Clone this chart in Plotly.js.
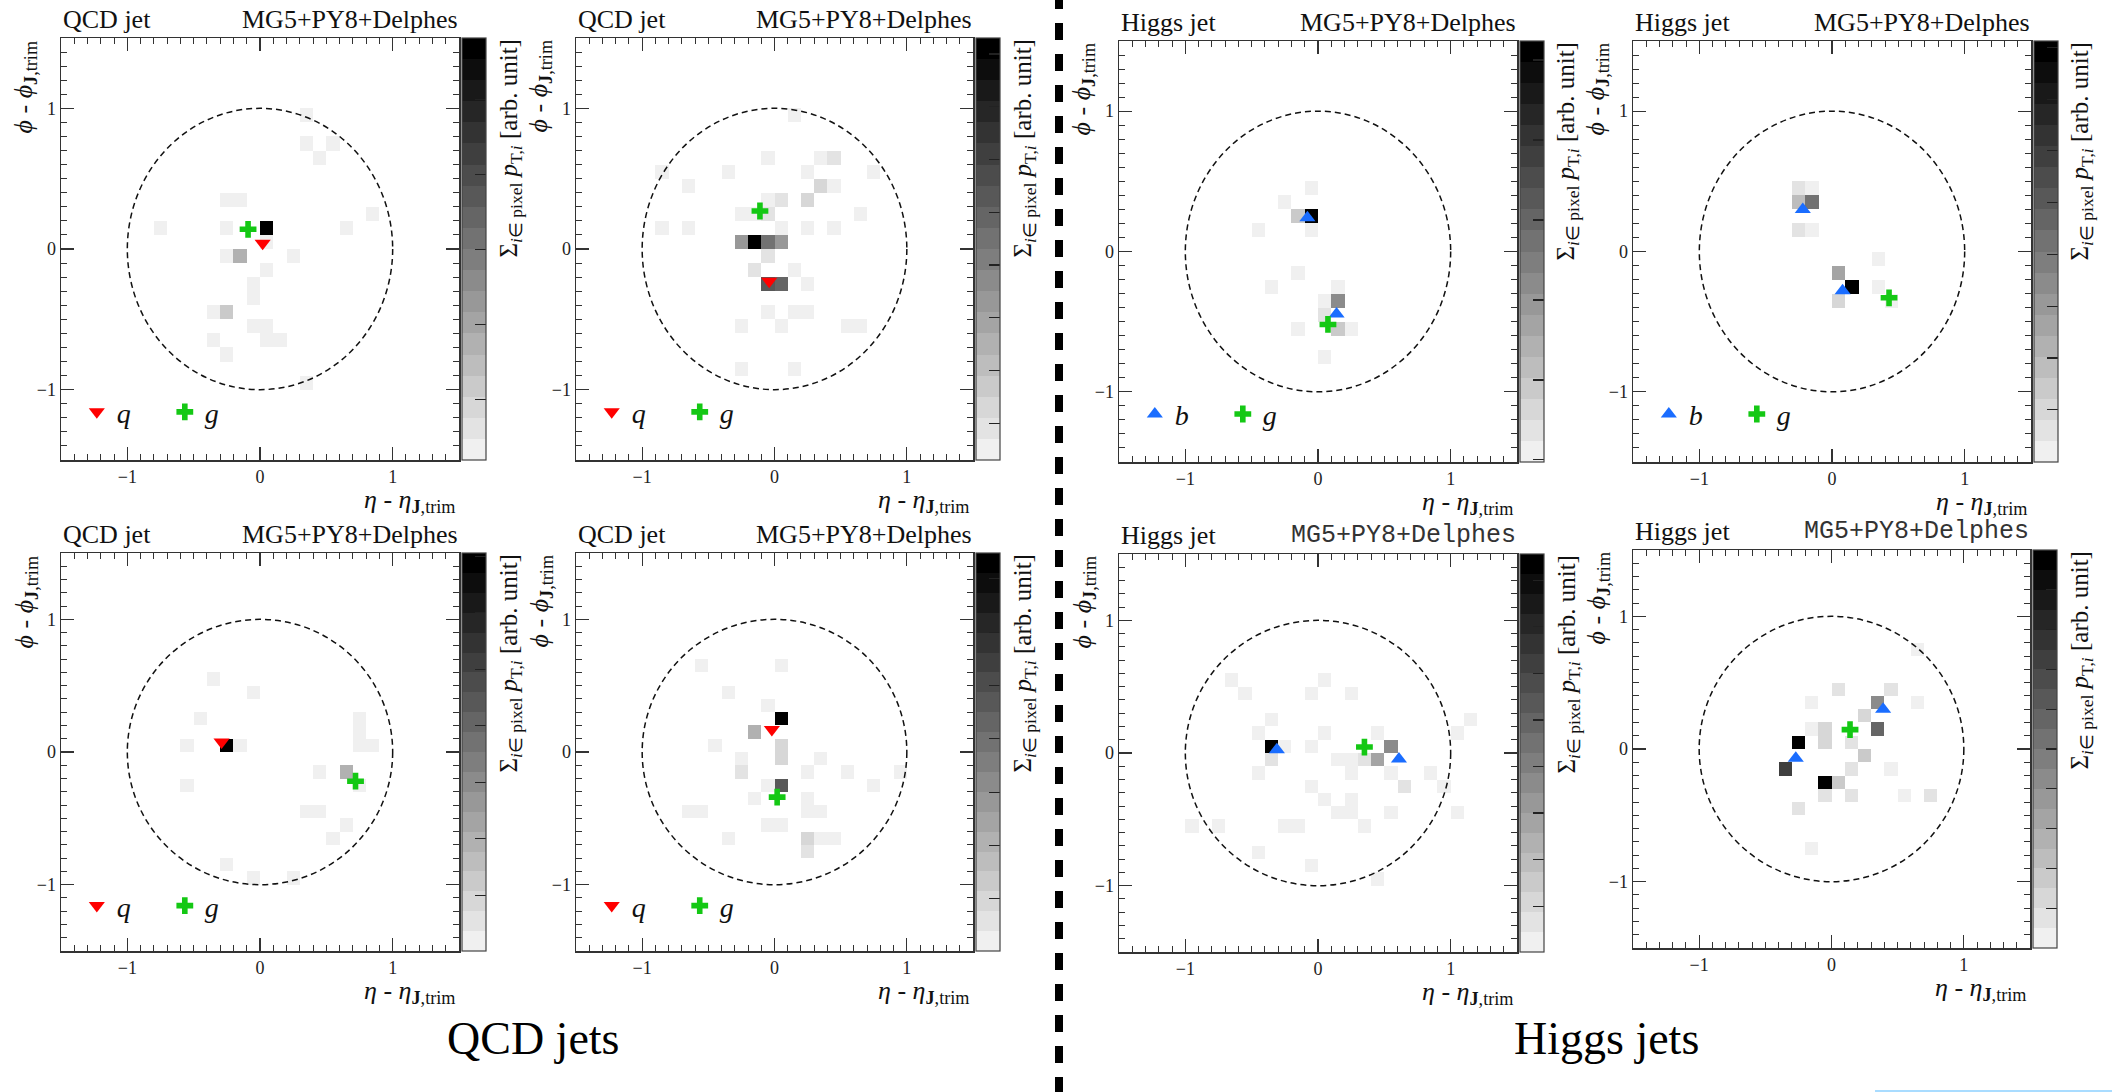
<!DOCTYPE html>
<html><head><meta charset="utf-8">
<script src="https://cdn.plot.ly/plotly-3.0.1.min.js"></script>
<style>html,body{margin:0;padding:0;background:#fff}#chart{width:2112px;height:1092px}</style>
</head><body><div id="chart"></div><script>
// ---------------- DATA ----------------
// pixel cells: centre in eta, centre in phi, grey level (1 = lightest, 20 = black)
const P1_CELL_ETA = [0.35,0.35,0.55,0.45,-0.25,-0.15,0.85,-0.75,-0.25,0.05,0.65,0.05,-0.25,-0.15,0.25,0.05,-0.05,-0.05,-0.35,-0.25,-0.05,0.05,-0.35,0.05,0.15,-0.25,0.35];
const P1_CELL_PHI = [0.95,0.75,0.75,0.65,0.35,0.35,0.25,0.15,0.15,0.15,0.15,0.05,-0.05,-0.05,-0.05,-0.15,-0.25,-0.35,-0.45,-0.45,-0.55,-0.55,-0.65,-0.65,-0.65,-0.75,-0.95];
const P1_CELL_LEVEL = [1,1,1,1,1,1,1,1,1,20,1,1,1,6,1,1,1,1,1,4,1,1,1,1,1,1,1];

const P2_CELL_ETA = [0.15,-0.05,0.35,0.45,-0.85,-0.35,0.25,0.75,-0.65,0.35,0.45,-0.05,0.05,0.25,-0.25,-0.15,-0.05,0.65,-0.85,-0.65,0.05,0.25,0.45,-0.25,-0.15,-0.05,0.05,-0.05,-0.15,0.15,-0.05,0.05,0.25,-0.05,0.15,0.25,-0.25,0.05,0.55,0.65,-0.25,0.15];
const P2_CELL_PHI = [0.95,0.65,0.65,0.65,0.55,0.55,0.55,0.55,0.45,0.45,0.45,0.35,0.35,0.35,0.25,0.25,0.25,0.25,0.15,0.15,0.15,0.15,0.15,0.05,0.05,0.05,0.05,-0.05,-0.15,-0.15,-0.25,-0.25,-0.25,-0.45,-0.45,-0.45,-0.55,-0.55,-0.55,-0.55,-0.85,-0.85];
const P2_CELL_LEVEL = [1,1,1,2,1,1,1,1,1,3,1,1,2,3,1,1,2,1,1,1,1,1,1,8,20,11,8,2,2,1,13,12,1,1,1,1,1,1,1,1,1,1];

const P3_CELL_ETA = [-0.05,-0.25,-0.15,-0.05,-0.45,-0.05,-0.15,-0.35,0.15,0.05,0.15,0.05,-0.15,0.15,0.25,0.05];
const P3_CELL_PHI = [0.45,0.35,0.25,0.25,0.15,0.15,-0.15,-0.25,-0.25,-0.35,-0.35,-0.45,-0.55,-0.55,-0.55,-0.75];
const P3_CELL_LEVEL = [1,1,4,20,1,1,1,1,1,1,9,2,1,4,1,1];

const P4_CELL_ETA = [-0.25,-0.15,-0.25,-0.15,-0.25,-0.15,0.35,0.05,0.15,0.35,0.05,0.45];
const P4_CELL_PHI = [0.45,0.45,0.35,0.35,0.15,0.15,-0.05,-0.15,-0.25,-0.25,-0.35,-0.35];
const P4_CELL_LEVEL = [2,1,5,11,2,1,1,7,20,1,3,1];

const P5_CELL_ETA = [-0.35,-0.05,-0.45,0.75,-0.25,0.75,-0.55,-0.15,0.75,0.85,0.45,0.65,0.75,-0.55,0.35,0.45,0.65,0.55,-0.25,-0.05,0.25];
const P5_CELL_PHI = [0.55,0.45,0.25,0.25,0.05,0.15,0.05,0.05,0.05,0.05,-0.15,-0.15,-0.25,-0.25,-0.45,-0.45,-0.55,-0.65,-0.85,-0.95,-0.95];
const P5_CELL_LEVEL = [1,1,1,1,20,1,1,1,1,1,1,6,1,1,1,1,1,1,1,1,1];

const P6_CELL_ETA = [-0.55,0.05,-0.35,-0.05,0.05,-0.15,-0.45,0.05,0.05,-0.25,0.35,-0.25,0.25,0.55,0.95,-0.05,0.05,0.75,-0.15,0.25,-0.65,-0.55,0.25,0.35,-0.05,0.05,-0.35,0.25,0.35,0.45,0.25];
const P6_CELL_PHI = [0.65,0.65,0.45,0.35,0.25,0.15,0.05,0.05,-0.05,-0.05,-0.05,-0.15,-0.15,-0.15,-0.15,-0.25,-0.25,-0.25,-0.35,-0.35,-0.45,-0.45,-0.45,-0.45,-0.55,-0.55,-0.65,-0.65,-0.65,-0.65,-0.75];
const P6_CELL_LEVEL = [1,1,1,1,20,6,1,3,3,1,1,2,1,1,1,1,13,1,1,1,1,1,1,1,1,1,1,3,1,1,2];

const P7_CELL_ETA = [-0.65,0.05,-0.55,-0.05,0.25,-0.35,1.15,-0.45,0.05,0.45,1.05,-0.35,-0.25,-0.05,0.55,-0.35,0.15,0.25,0.35,0.45,-0.45,0.25,0.55,0.85,-0.05,0.65,0.95,0.05,0.25,0.15,0.25,0.55,1.05,-0.95,-0.75,-0.25,-0.15,0.35,-0.45,-0.05,0.45];
const P7_CELL_PHI = [0.55,0.55,0.45,0.45,0.45,0.25,0.25,0.15,0.15,0.15,0.15,0.05,0.05,0.05,0.05,-0.05,-0.05,-0.05,-0.05,-0.05,-0.15,-0.15,-0.15,-0.15,-0.25,-0.25,-0.25,-0.35,-0.35,-0.45,-0.45,-0.45,-0.45,-0.55,-0.55,-0.55,-0.55,-0.55,-0.75,-0.85,-0.95];
const P7_CELL_LEVEL = [1,1,1,1,1,1,1,1,1,1,1,20,1,1,9,2,1,1,2,7,1,1,1,1,1,2,1,1,1,1,1,1,1,1,1,1,1,1,1,1,1];

const P8_CELL_ETA = [0.65,0.05,0.45,-0.15,0.35,0.65,0.25,-0.15,-0.05,0.35,-0.25,-0.05,0.15,0.25,-0.35,0.15,0.45,-0.05,0.05,-0.05,0.15,0.55,0.75,-0.25,-0.15];
const P8_CELL_PHI = [0.75,0.45,0.45,0.35,0.35,0.35,0.25,0.15,0.15,0.15,0.05,0.05,0.05,-0.05,-0.15,-0.15,-0.15,-0.25,-0.25,-0.35,-0.35,-0.35,-0.35,-0.45,-0.75];
const P8_CELL_LEVEL = [1,2,2,1,9,1,3,1,3,12,20,3,2,4,15,2,1,20,4,2,2,1,2,2,1];

// parton positions (eta, phi)
const P1_Q_ETA = [0.02],  P1_Q_PHI = [0.04],  P1_G_ETA = [-0.09], P1_G_PHI = [0.14];
const P2_Q_ETA = [-0.04], P2_Q_PHI = [-0.23], P2_G_ETA = [-0.11], P2_G_PHI = [0.27];
const P3_B_ETA = [-0.08, 0.14], P3_B_PHI = [0.24, -0.445], P3_G_ETA = [0.075], P3_G_PHI = [-0.52];
const P4_B_ETA = [-0.22, 0.08], P4_B_PHI = [0.30, -0.28],  P4_G_ETA = [0.43],  P4_G_PHI = [-0.33];
const P5_Q_ETA = [-0.29], P5_Q_PHI = [0.076], P5_G_ETA = [0.72],  P5_G_PHI = [-0.22];
const P6_Q_ETA = [-0.02], P6_Q_PHI = [0.17],  P6_G_ETA = [0.02],  P6_G_PHI = [-0.34];
const P7_B_ETA = [-0.31, 0.61], P7_B_PHI = [0.025, -0.045], P7_G_ETA = [0.35], P7_G_PHI = [0.045];
const P8_B_ETA = [-0.27, 0.39], P8_B_PHI = [-0.07, 0.30],   P8_G_ETA = [0.14], P8_G_PHI = [0.146];

const JET_LABELS = ['QCD jet','QCD jet','Higgs jet','Higgs jet','QCD jet','QCD jet','Higgs jet','Higgs jet'];
const GEN_LABEL = 'MG5+PY8+Delphes';
const GROUP_LABELS = ['QCD jets','Higgs jets'];

// ---------------- LAYOUT ----------------
const W = 2112, H = 1092;
const SERIF = 'Liberation Serif, Times New Roman, serif';
const MONO = 'Liberation Mono, Courier New, monospace';
// plot boxes in px: left, right, top, bottom
const BOX = [[61,459,38,460],[576,973,38,460],[1119,1517,41,462],[1633,2031,41,462],
             [61,459,553,951],[576,973,553,951],[1119,1517,554,952],[1633,2030,550,948]];
const CB_TICK = [[0.143,0.178],[0.087,0.125],[0.195,0.19],[0.124,0.123],[0.14,0.142],[0.131,0.134],[0.115,0.117],[0.1,0.1]];

const panels = [
  {cx:P1_CELL_ETA, cy:P1_CELL_PHI, cl:P1_CELL_LEVEL, ax:P1_Q_ETA, ay:P1_Q_PHI, gx:P1_G_ETA, gy:P1_G_PHI, kind:'q', leg:true, mono:false},
  {cx:P2_CELL_ETA, cy:P2_CELL_PHI, cl:P2_CELL_LEVEL, ax:P2_Q_ETA, ay:P2_Q_PHI, gx:P2_G_ETA, gy:P2_G_PHI, kind:'q', leg:true, mono:false},
  {cx:P3_CELL_ETA, cy:P3_CELL_PHI, cl:P3_CELL_LEVEL, ax:P3_B_ETA, ay:P3_B_PHI, gx:P3_G_ETA, gy:P3_G_PHI, kind:'b', leg:true, mono:false},
  {cx:P4_CELL_ETA, cy:P4_CELL_PHI, cl:P4_CELL_LEVEL, ax:P4_B_ETA, ay:P4_B_PHI, gx:P4_G_ETA, gy:P4_G_PHI, kind:'b', leg:true, mono:false},
  {cx:P5_CELL_ETA, cy:P5_CELL_PHI, cl:P5_CELL_LEVEL, ax:P5_Q_ETA, ay:P5_Q_PHI, gx:P5_G_ETA, gy:P5_G_PHI, kind:'q', leg:true, mono:false},
  {cx:P6_CELL_ETA, cy:P6_CELL_PHI, cl:P6_CELL_LEVEL, ax:P6_Q_ETA, ay:P6_Q_PHI, gx:P6_G_ETA, gy:P6_G_PHI, kind:'q', leg:true, mono:false},
  {cx:P7_CELL_ETA, cy:P7_CELL_PHI, cl:P7_CELL_LEVEL, ax:P7_B_ETA, ay:P7_B_PHI, gx:P7_G_ETA, gy:P7_G_PHI, kind:'b', leg:false, mono:true},
  {cx:P8_CELL_ETA, cy:P8_CELL_PHI, cl:P8_CELL_LEVEL, ax:P8_B_ETA, ay:P8_B_PHI, gx:P8_G_ETA, gy:P8_G_PHI, kind:'b', leg:false, mono:true}
];

const NB = 30, LO = -1.5, BW = 0.1, NLEV = 20;
// discrete grey scale, 20 bands from #f0f0f0 to black
const GRAY = [];
for (let k = 0; k < NLEV; k++) {
  const g = Math.round(240 * (NLEV - 1 - k) / (NLEV - 1));
  const c = 'rgb(' + g + ',' + g + ',' + g + ')';
  GRAY.push([k / NLEV, c]); GRAY.push([(k + 1) / NLEV, c]);
}

const px = v => v / W;
const py = v => 1 - v / H;

const traces = [], shapes = [], annotations = [];
const layout = {
  width: W, height: H, margin: {l:0, r:0, t:0, b:0},
  paper_bgcolor: '#fff', plot_bgcolor: '#fff', showlegend: true,
  font: {family: SERIF, color: '#111'}
};

panels.forEach((p, k) => {
  const [L, R, T, B] = BOX[k];
  const sfx = k === 0 ? '' : String(k + 1);
  const xa = 'x' + sfx, ya = 'y' + sfx;
  const axCommon = {
    range: [-1.5, 1.5], showgrid: false, zeroline: false, fixedrange: true,
    showline: true, linecolor: '#333', linewidth: 1.5, mirror: 'ticks',
    ticks: 'inside', ticklen: 13, tickwidth: 1.2, tickcolor: '#333',
    tickvals: [-1, 0, 1], tickfont: {family: SERIF, size: 18, color: '#222'},
    minor: {dtick: 0.1, tick0: 0, ticks: 'inside', ticklen: 6, tickwidth: 1, tickcolor: '#333'}
  };
  layout['xaxis' + sfx] = Object.assign({}, axCommon, {domain: [px(L), px(R)], anchor: ya});
  layout['yaxis' + sfx] = Object.assign({}, axCommon, {domain: [py(B), py(T)], anchor: xa});

  // grid from the cell lists
  const z = [];
  for (let j = 0; j < NB; j++) { z.push(new Array(NB).fill(null)); }
  p.cx.forEach((x, i) => {
    const ix = Math.floor((x - LO) / BW), iy = Math.floor((p.cy[i] - LO) / BW);
    z[iy][ix] = (p.cl[i] - 0.5) / NLEV;
  });
  traces.push({
    type: 'heatmap', z: z, x0: LO + BW / 2, dx: BW, y0: LO + BW / 2, dy: BW,
    xaxis: xa, yaxis: ya, zmin: 0, zmax: 1, colorscale: GRAY, hoverinfo: 'skip', showlegend: false,
    colorbar: {
      x: px(R + 3), xanchor: 'left', xref: 'paper', xpad: 0,
      y: py(T), yanchor: 'top', yref: 'paper', ypad: 0,
      len: B - T, lenmode: 'pixels', thickness: 24, thicknessmode: 'pixels',
      outlinewidth: 1.2, outlinecolor: '#444',
      tickmode: 'linear', tick0: CB_TICK[k][0], dtick: CB_TICK[k][1],
      ticks: 'inside', ticklen: 11, tickwidth: 1.2, tickcolor: '#222', showticklabels: false
    }
  });

  const legName = k === 0 ? 'legend' : 'legend' + (k + 1);
  traces.push({
    type: 'scatter', mode: 'markers', x: p.ax, y: p.ay, xaxis: xa, yaxis: ya,
    name: p.kind === 'q' ? '<i>q</i>' : '<i>b</i>', legend: legName, showlegend: p.leg, hoverinfo: 'skip',
    marker: {symbol: p.kind === 'q' ? 'triangle-down' : 'triangle-up', size: 14,
             color: p.kind === 'q' ? '#ff0000' : '#1a6dff', line: {width: 0}}
  });
  traces.push({
    type: 'scatter', mode: 'markers', x: p.gx, y: p.gy, xaxis: xa, yaxis: ya,
    name: '<i>g</i>', legend: legName, showlegend: p.leg, hoverinfo: 'skip',
    marker: {symbol: 'cross', size: 14, color: '#14c814', line: {width: 0}}
  });

  if (p.leg) {
    const sx = (R - L) / 3, sy = (B - T) / 3;
    const symX = L + (-1.23 + 1.5) * sx, symY = T + (1.5 + 1.16) * sy;
    layout[legName] = {
      x: px(symX - 20), xanchor: 'left', y: py(symY), yanchor: 'middle',
      orientation: 'h', bgcolor: 'rgba(0,0,0,0)', borderwidth: 0,
      entrywidth: 43, entrywidthmode: 'pixels', itemsizing: 'trace',
      font: {family: SERIF, size: 28, color: '#111'}, traceorder: 'normal'
    };
  }

  shapes.push({type: 'circle', xref: xa, yref: ya, x0: -1, x1: 1, y0: -1, y1: 1,
               line: {color: '#111', width: 1.5, dash: '6px,4px'}});

  annotations.push({text: JET_LABELS[k], xref: 'paper', yref: 'paper', x: px(L), xanchor: 'left',
    y: py(T - 19), yanchor: 'middle', showarrow: false, font: {family: SERIF, size: 26, color: '#111'}});
  annotations.push({text: GEN_LABEL, xref: 'paper', yref: 'paper', x: px(R + 1), xanchor: 'right',
    y: py(T - 19), yanchor: 'middle', showarrow: false,
    font: {family: p.mono ? MONO : SERIF, size: p.mono ? 25 : 26, color: p.mono ? '#333' : '#111'}});
  annotations.push({text: '<i>η</i> - <i>η</i><sub><b>J</b>,trim</sub>', xref: 'paper', yref: 'paper',
    x: px(R - 2), xanchor: 'right', y: py(B + 41), yanchor: 'middle', showarrow: false,
    font: {family: SERIF, size: 26, color: '#111'}});
  annotations.push({text: '<i>ϕ</i> - <i>ϕ</i><sub><b>J</b>,trim</sub>', xref: 'paper', yref: 'paper',
    x: px(L - 18), xanchor: 'right', y: py(T), yanchor: 'top', textangle: -90, showarrow: false,
    font: {family: SERIF, size: 26, color: '#111'}});
  annotations.push({text: 'Σ<sub><i>i</i>∈ pixel</sub> <i>p</i><sub>T,<i>i</i></sub> [arb. unit]', xref: 'paper', yref: 'paper',
    x: px(R + 33), xanchor: 'left', y: py(T), yanchor: 'top', textangle: -90, showarrow: false,
    font: {family: SERIF, size: 25, color: '#111'}});
});

annotations.push({text: GROUP_LABELS[0], xref: 'paper', yref: 'paper', x: px(533), xanchor: 'center',
  y: py(1038), yanchor: 'middle', showarrow: false, font: {family: SERIF, size: 46, color: '#000'}});
annotations.push({text: GROUP_LABELS[1], xref: 'paper', yref: 'paper', x: px(1606), xanchor: 'center',
  y: py(1038), yanchor: 'middle', showarrow: false, font: {family: SERIF, size: 46, color: '#000'}});

// separator between QCD and Higgs halves
shapes.push({type: 'line', xref: 'paper', yref: 'paper', x0: px(1059), x1: px(1059), y0: py(-8), y1: py(H),
  line: {color: '#000', width: 8, dash: '17px,14px'}});
// thin light-blue strip at lower right
shapes.push({type: 'line', xref: 'paper', yref: 'paper', x0: px(1875), x1: px(2112), y0: py(1091), y1: py(1091),
  line: {color: '#a9dcff', width: 2}});

layout.shapes = shapes;
layout.annotations = annotations;

Plotly.newPlot('chart', traces, layout, {staticPlot: true, displayModeBar: false});
</script></body></html>
